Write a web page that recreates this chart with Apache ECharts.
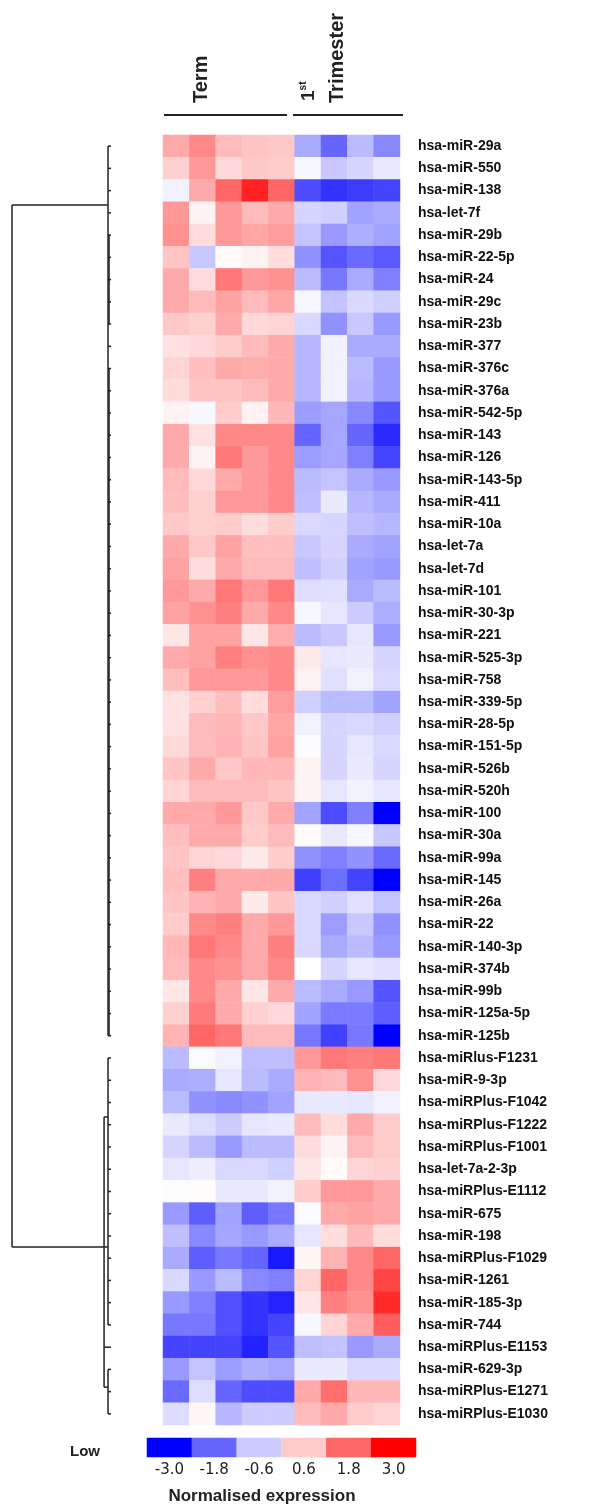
<!DOCTYPE html>
<html>
<head>
<meta charset="utf-8">
<script src="https://cdn.jsdelivr.net/npm/echarts@6/dist/echarts.min.js"></script>
<style>
html,body{margin:0;padding:0;background:#fff;}
#chart{width:594px;height:1506px;}
</style>
</head>
<body>
<div id="chart"></div>
<script>
// ---- categories ----
var genes = ['hsa-miR-29a','hsa-miR-550','hsa-miR-138','hsa-let-7f','hsa-miR-29b','hsa-miR-22-5p','hsa-miR-24','hsa-miR-29c','hsa-miR-23b','hsa-miR-377','hsa-miR-376c','hsa-miR-376a','hsa-miR-542-5p','hsa-miR-143','hsa-miR-126','hsa-miR-143-5p','hsa-miR-411','hsa-miR-10a','hsa-let-7a','hsa-let-7d','hsa-miR-101','hsa-miR-30-3p','hsa-miR-221','hsa-miR-525-3p','hsa-miR-758','hsa-miR-339-5p','hsa-miR-28-5p','hsa-miR-151-5p','hsa-miR-526b','hsa-miR-520h','hsa-miR-100','hsa-miR-30a','hsa-miR-99a','hsa-miR-145','hsa-miR-26a','hsa-miR-22','hsa-miR-140-3p','hsa-miR-374b','hsa-miR-99b','hsa-miR-125a-5p','hsa-miR-125b','hsa-miRlus-F1231','hsa-miR-9-3p','hsa-miRPlus-F1042','hsa-miRPlus-F1222','hsa-miRPlus-F1001','hsa-let-7a-2-3p','hsa-miRPlus-E1112','hsa-miR-675','hsa-miR-198','hsa-miRPlus-F1029','hsa-miR-1261','hsa-miR-185-3p','hsa-miR-744','hsa-miRPlus-E1153','hsa-miR-629-3p','hsa-miRPlus-E1271','hsa-miRPlus-E1030'];
var samples = ['T1','T2','T3','T4','T5','F1','F2','F3','F4'];

// ---- series values (one array per sample column) ----
var term1 = [1.0,0.55,-0.15,1.2,1.3,0.7,1.0,1.0,0.65,0.35,0.5,0.4,0.15,1.0,1.0,0.8,0.75,0.65,1.0,1.1,1.2,1.1,0.3,1.0,0.75,0.35,0.35,0.45,0.7,0.5,1.0,0.75,0.7,0.75,0.7,0.6,0.85,0.8,0.3,0.55,0.9,-0.8,-1.0,-0.8,-0.25,-0.5,-0.3,-0.02,-1.2,-0.75,-1.0,-0.45,-1.2,-1.6,-2.2,-1.2,-1.75,-0.4];
var term2 = [1.4,1.2,1.0,0.15,0.4,-0.65,0.4,0.8,0.55,0.45,0.75,0.7,-0.08,0.35,0.15,0.45,0.55,0.55,0.65,0.4,1.0,1.3,1.1,1.1,1.2,0.55,0.8,0.8,1.0,0.8,1.0,1.0,0.5,1.5,0.9,1.4,1.6,1.4,1.4,1.55,1.8,-0.05,-0.95,-1.3,-0.4,-0.8,-0.2,0.03,-1.9,-1.4,-1.9,-1.2,-1.5,-1.6,-2.2,-0.7,-0.4,0.1];
var term3 = [0.8,0.45,1.8,1.2,1.2,0.05,1.6,1.1,1.0,0.6,1.0,0.7,0.6,1.4,1.6,1.0,1.2,0.6,1.1,1.0,1.6,1.5,1.1,1.5,1.2,0.75,0.85,0.9,0.65,0.8,1.2,1.0,0.45,1.0,1.0,1.5,1.4,1.3,1.0,1.0,1.6,-0.15,-0.3,-1.4,-0.6,-1.2,-0.45,-0.25,-1.1,-1.05,-1.6,-0.8,-2.05,-2.05,-2.2,-1.15,-1.8,-0.85];
var term4 = [0.7,0.65,2.6,0.8,1.05,0.15,1.2,0.8,0.45,0.8,0.95,0.8,0.15,1.4,1.2,1.2,1.2,0.4,0.75,0.8,1.2,1.0,0.3,1.3,1.2,0.4,0.65,0.7,0.85,0.8,0.65,0.6,0.25,1.0,0.25,1.0,1.0,1.0,0.3,0.55,0.8,-0.75,-0.8,-1.3,-0.3,-0.8,-0.45,-0.25,-1.9,-1.2,-1.8,-1.4,-2.4,-2.4,-2.6,-0.95,-2.1,-0.6];
var term5 = [0.65,0.6,1.8,1.0,1.15,0.4,1.3,1.05,0.5,1.0,1.0,1.0,0.85,1.4,1.4,1.4,1.4,0.6,0.75,0.8,1.6,1.4,0.95,1.4,1.4,1.15,1.05,1.1,0.85,0.7,1.0,0.8,0.6,1.0,0.7,1.2,1.5,1.4,1.0,0.45,0.8,-0.75,-1.0,-1.1,-0.25,-0.8,-0.55,-0.15,-1.6,-1.0,-2.7,-1.5,-2.6,-2.2,-2.0,-1.05,-2.1,-0.6];
var first1 = [-1.0,-0.1,-2.1,-0.5,-0.7,-1.3,-0.8,-0.1,-0.45,-0.85,-0.85,-0.85,-1.15,-1.8,-1.15,-0.8,-0.75,-0.45,-0.65,-0.75,-0.4,-0.1,-0.8,0.25,0.15,-0.55,-0.15,-0.03,0.15,0.15,-1.1,0.05,-1.3,-2.25,-0.45,-0.45,-0.45,0.0,-0.8,-1.1,-1.6,1.2,0.9,-0.25,0.8,0.4,0.3,0.6,-0.05,-0.3,0.1,0.5,0.3,-0.1,-0.75,-0.25,1.0,0.8];
var first2 = [-1.8,-0.65,-2.4,-0.55,-1.2,-2.0,-1.6,-0.7,-1.3,-0.15,-0.15,-0.15,-1.05,-1.05,-1.05,-0.7,-0.25,-0.5,-0.5,-0.55,-0.35,-0.3,-0.65,-0.3,-0.35,-0.8,-0.5,-0.5,-0.5,-0.3,-2.1,-0.25,-1.5,-1.7,-0.55,-1.15,-1.0,-0.5,-1.0,-1.55,-2.25,1.6,0.8,-0.25,0.4,0.15,0.05,1.2,1.0,0.4,0.9,1.8,1.5,0.5,-0.7,-0.25,1.7,1.0];
var first3 = [-0.8,-0.5,-2.3,-1.1,-0.95,-1.75,-1.0,-0.45,-0.65,-1.0,-0.8,-0.85,-1.4,-1.8,-1.5,-1.0,-0.85,-0.75,-1.0,-1.1,-1.0,-0.6,-0.3,-0.25,-0.15,-0.8,-0.45,-0.3,-0.25,-0.15,-1.5,-0.1,-1.3,-2.2,-0.35,-0.65,-0.8,-0.3,-1.2,-1.55,-1.6,1.5,1.3,-0.3,1.0,0.8,0.5,1.2,1.1,0.8,1.4,1.4,1.3,1.0,-1.2,-0.45,0.85,0.6];
var first4 = [-1.4,-0.25,-2.2,-1.0,-1.1,-1.95,-1.5,-0.55,-1.2,-1.0,-1.2,-1.2,-2.0,-2.5,-2.2,-1.2,-1.0,-0.85,-1.1,-1.2,-0.8,-0.95,-1.2,-0.5,-0.45,-1.1,-0.55,-0.45,-0.5,-0.3,-3.0,-0.65,-1.75,-3.0,-0.7,-1.3,-1.2,-0.35,-2.0,-1.9,-3.0,1.6,0.45,-0.15,0.6,0.6,0.55,1.0,1.0,0.4,1.8,2.2,2.5,1.9,-1.0,-0.45,0.85,0.5];

// ---- colour-key ticks ----
var keyLabels = ['-3.0','-1.8','-0.6','0.6','1.8','3.0'];
var keyValues = [-3.0,-1.8,-0.6,0.6,1.8,3.0];

// ---- dendrogram segments [height1,row1,height2,row2] (row centre = index) ----
var dendroSegments = [
  [3,0,3,40],[2,4,2,8],[2,10,2,40],[3,2.65,100,2.65],
  [3,41,3,53],[3,55,3,57],[7,43.65,7,55.8],[3,43.65,7,43.65],[3,55.8,7,55.8],[0,54,7,54],
  [3,49.5,100,49.5],[100,2.65,100,49.5]
];
var leafHeight = 3;

var columns = [term1,term2,term3,term4,term5,first1,first2,first3,first4];
var heatData = [];
columns.forEach(function(col, ci){
  col.forEach(function(v, ri){ heatData.push([ci, ri, v]); });
});
var segData = dendroSegments.slice();
genes.forEach(function(g, i){ if (i !== 54) segData.push([0, i, leafHeight, i]); });
var keyData = keyValues.map(function(v, i){ return [i, 0, v]; });

var chart = echarts.init(document.getElementById('chart'), null, {renderer:'canvas'});
var boldFont = 'Liberation Sans';
chart.setOption({
  animation: false,
  backgroundColor: '#ffffff',
  grid: [
    {left:163, top:135, width:237, height:1290},
    {left:12, top:135, width:99, height:1290},
    {left:147, top:1438, width:269, height:19}
  ],
  xAxis: [
    {gridIndex:0, type:'category', data:samples, show:false},
    {gridIndex:1, type:'value', min:0, max:100, inverse:true, show:false},
    {gridIndex:2, type:'category', data:keyLabels, axisLine:{show:false}, axisTick:{show:false},
     axisLabel:{margin:6, fontFamily:'DejaVu Sans', fontSize:15, color:'#222'}}
  ],
  yAxis: [
    {gridIndex:0, type:'category', data:genes, inverse:true, position:'right',
     axisLine:{show:false}, axisTick:{show:false},
     axisLabel:{margin:18, fontFamily:boldFont, fontWeight:'bold', fontSize:14, color:'#111'}},
    {gridIndex:1, type:'value', min:-0.5, max:57.5, inverse:true, show:false},
    {gridIndex:2, type:'category', data:[''], show:false}
  ],
  visualMap: {
    type:'continuous', show:false, min:-3, max:3, seriesIndex:[0,2], dimension:2,
    inRange:{color:['#0000ff','#ffffff','#ff0000']}
  },
  series: [
    {type:'heatmap', xAxisIndex:0, yAxisIndex:0, data:heatData, itemStyle:{borderWidth:0}},
    {type:'custom', xAxisIndex:1, yAxisIndex:1, data:segData, silent:true,
     renderItem:function(params, api){
       var p1 = api.coord([api.value(0), api.value(1)]);
       var p2 = api.coord([api.value(2), api.value(3)]);
       return {type:'line', shape:{x1:p1[0], y1:p1[1], x2:p2[0], y2:p2[1]},
               style:{stroke:'#222', lineWidth:1.5}};
     }},
    {type:'heatmap', xAxisIndex:2, yAxisIndex:2, data:keyData, itemStyle:{borderWidth:0}}
  ],
  graphic: [
    {type:'line', shape:{x1:164, y1:115, x2:287, y2:115}, style:{stroke:'#222', lineWidth:2}},
    {type:'line', shape:{x1:293, y1:115, x2:403, y2:115}, style:{stroke:'#222', lineWidth:2}},
    {type:'text', x:201, y:103, rotation:Math.PI/2,
     style:{text:'Term', font:'bold 20px Liberation Sans', fill:'#222', textAlign:'left', textVerticalAlign:'middle'}},
    {type:'text', x:309, y:101, rotation:Math.PI/2,
     style:{text:'{a|1}{b|st}', textAlign:'left', textVerticalAlign:'middle',
       rich:{a:{font:'bold 19px Liberation Sans', fill:'#222', lineHeight:22},
             b:{font:'bold 10px Liberation Sans', fill:'#222', lineHeight:10, verticalAlign:'top'}}}},
    {type:'text', x:337, y:103, rotation:Math.PI/2,
     style:{text:'Trimester', font:'bold 20px Liberation Sans', fill:'#222', textAlign:'left', textVerticalAlign:'middle'}},
    {type:'text', x:85, y:1452,
     style:{text:'Low', font:'bold 15px Liberation Sans', fill:'#222', textAlign:'center', textVerticalAlign:'middle'}},
    {type:'text', x:262, y:1496,
     style:{text:'Normalised expression', font:'bold 17px Liberation Sans', fill:'#222', textAlign:'center', textVerticalAlign:'middle'}}
  ]
});
</script>
</body>
</html>
